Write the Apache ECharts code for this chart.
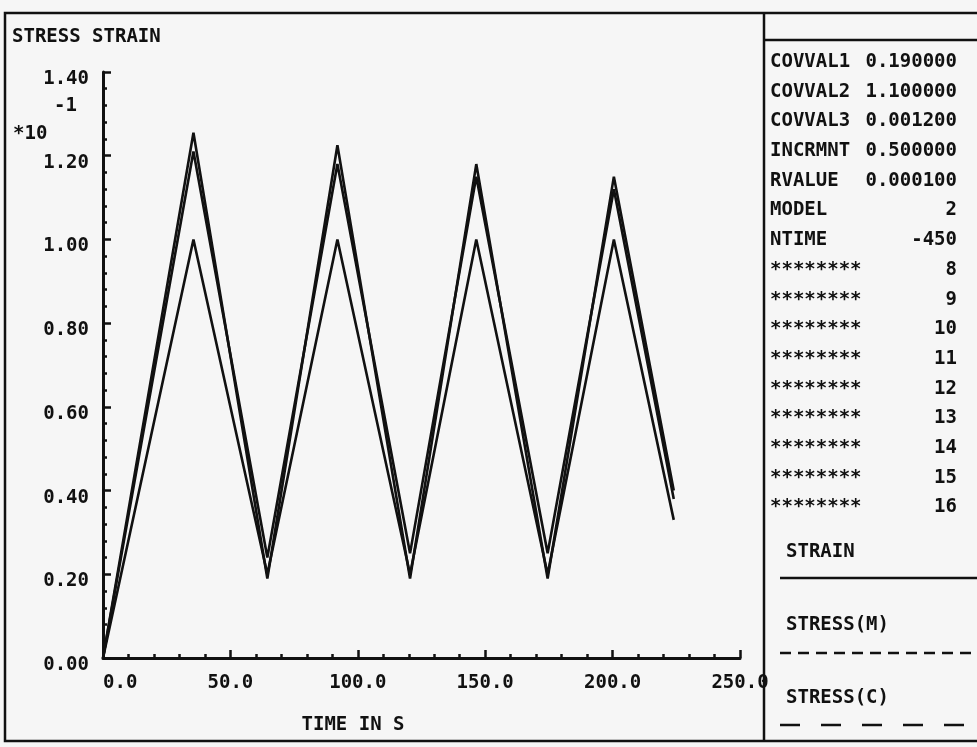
<!DOCTYPE html>
<html>
<head>
<meta charset="utf-8">
<script src="https://cdn.jsdelivr.net/npm/echarts@6/dist/echarts.min.js"></script>
<style>
  html, body { margin: 0; padding: 0; background: #f6f6f6; }
  #chart { width: 977px; height: 747px; }
</style>
</head>
<body>
<div id="chart"></div>
<script>
// ---- data ----
const timeS   = [0, 35.5, 64.5, 92, 120.5, 146.5, 174.5, 200.5, 224];
const strain  = [0, 1.00, 0.20, 1.00, 0.20, 1.00, 0.20, 1.00, 0.33];
const stressM = [0, 1.21, 0.24, 1.18, 0.25, 1.15, 0.25, 1.12, 0.38];
const stressC = [0, 1.255, 0.19, 1.225, 0.19, 1.18, 0.19, 1.15, 0.40];

const seriesNames = ['STRAIN', 'STRESS(M)', 'STRESS(C)'];
const xTicks = [0, 50, 100, 150, 200, 250];
const yTicks = [0, 0.2, 0.4, 0.6, 0.8, 1.0, 1.2, 1.4];

const paramNames  = ['COVVAL1', 'COVVAL2', 'COVVAL3', 'INCRMNT', 'RVALUE', 'MODEL', 'NTIME',
                     '********', '********', '********', '********', '********', '********', '********', '********', '********'];
const paramValues = ['0.190000', '1.100000', '0.001200', '0.500000', '0.000100', '2', '-450',
                     '8', '9', '10', '11', '12', '13', '14', '15', '16'];

const chartTitle = 'STRESS STRAIN';
const xTitle = 'TIME IN S';
const yExpTop = '-1';
const yExpBase = '*10';

// ---- build ----
const FONT = '"DejaVu Sans Mono", monospace';
const INK = '#111';
const zip = (xs, ys) => xs.map((x, i) => [x, ys[i]]);

const graphics = [];
// frame
graphics.push({ type: 'rect', shape: { x: 5, y: 13, width: 1000, height: 728 },
  style: { fill: null, stroke: INK, lineWidth: 2.5 }, silent: true });
graphics.push({ type: 'line', shape: { x1: 764, y1: 13, x2: 764, y2: 741 },
  style: { stroke: INK, lineWidth: 2.5 }, silent: true });
graphics.push({ type: 'line', shape: { x1: 764, y1: 40, x2: 977, y2: 40 },
  style: { stroke: INK, lineWidth: 2.5 }, silent: true });

const txt = (text, x, y, align, size) => ({
  type: 'text', silent: true,
  style: { text, x, y, fill: INK, font: 'bold ' + (size || 19) + 'px ' + FONT,
           textAlign: align || 'left', textVerticalAlign: 'middle' }
});

graphics.push(txt(chartTitle, 12, 37));
graphics.push(txt(xTitle, 353, 725, 'center'));
graphics.push(txt(yExpTop, 54, 106));
graphics.push(txt(yExpBase, 13, 134));

const rowTop = 62, rowStep = 29.7;
paramNames.forEach((n, i) => {
  graphics.push(txt(n, 770, rowTop + i * rowStep));
  graphics.push(txt(paramValues[i], 957, rowTop + i * rowStep, 'right'));
});

const legendY = [552, 625, 698];
const legendLineY = [578, 653, 725];
const legendDash = [null, [11, 7], [20, 21]];
seriesNames.forEach((n, i) => {
  graphics.push(txt(n, 786, legendY[i]));
  graphics.push({ type: 'line', silent: true,
    shape: { x1: 780, y1: legendLineY[i], x2: 977, y2: legendLineY[i] },
    style: { stroke: INK, lineWidth: 2.5, lineDash: legendDash[i] } });
});

const chart = echarts.init(document.getElementById('chart'), null, { renderer: 'canvas' });
chart.setOption({
  backgroundColor: '#f6f6f6',
  animation: false,
  grid: { left: 103, right: 237, top: 72, bottom: 89, containLabel: false },
  xAxis: {
    type: 'value', min: xTicks[0], max: xTicks[xTicks.length - 1], interval: 50,
    axisLine: { lineStyle: { color: INK, width: 3 } },
    axisTick: { inside: true, length: 8, lineStyle: { color: INK, width: 2.5 } },
    minorTick: { show: true, splitNumber: 5, length: 4, lineStyle: { color: INK, width: 2.5 } },
    splitLine: { show: false },
    axisLabel: { color: INK, fontFamily: FONT, fontWeight: 'bold', fontSize: 19, margin: 16,
                 alignMinLabel: 'left', formatter: v => v.toFixed(1) }
  },
  yAxis: {
    type: 'value', min: yTicks[0], max: yTicks[yTicks.length - 1], interval: 0.2,
    axisLine: { lineStyle: { color: INK, width: 3 } },
    axisTick: { inside: true, length: 8, lineStyle: { color: INK, width: 2.5 } },
    minorTick: { show: true, splitNumber: 5, length: 4, lineStyle: { color: INK, width: 2.5 } },
    splitLine: { show: false },
    axisLabel: { color: INK, fontFamily: FONT, fontWeight: 'bold', fontSize: 19, margin: 14,
                 verticalAlign: 'top', lineHeight: 14, formatter: v => v.toFixed(2) }
  },
  graphic: graphics,
  series: [
    { name: seriesNames[0], type: 'line', data: zip(timeS, strain), symbol: 'none',
      lineStyle: { color: INK, width: 2.6 } },
    { name: seriesNames[1], type: 'line', data: zip(timeS, stressM), symbol: 'none',
      lineStyle: { color: INK, width: 2.6 } },
    { name: seriesNames[2], type: 'line', data: zip(timeS, stressC), symbol: 'none',
      lineStyle: { color: INK, width: 2.6 } }
  ]
});
</script>
</body>
</html>
